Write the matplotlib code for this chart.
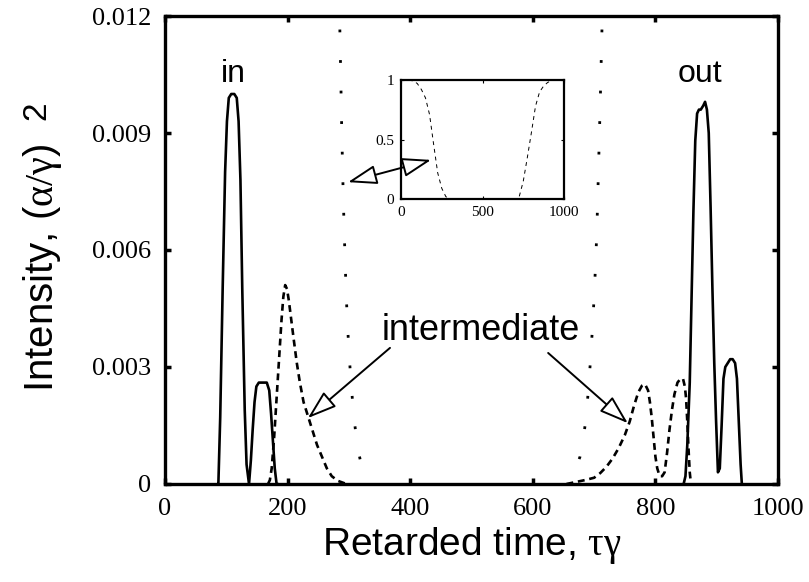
import matplotlib
matplotlib.use("Agg")
import matplotlib.pyplot as plt
from matplotlib.patches import FancyArrowPatch

plt.rcParams["mathtext.fontset"] = "custom"
plt.rcParams["mathtext.rm"] = "Liberation Serif"
plt.rcParams["mathtext.it"] = "Liberation Serif"
plt.rcParams["mathtext.default"] = "rm"

# ---- data ----
in_x = [85, 87, 90, 94, 98, 101, 104, 108, 113, 117, 120, 123, 126, 130, 133,
        137, 140, 143, 146, 149, 153, 160, 166, 170, 173, 176, 179, 182, 185]
in_y = [0, 0, 0.0017, 0.0050, 0.0080, 0.0093, 0.0099, 0.0100, 0.0100, 0.0099,
        0.0093, 0.0078, 0.0050, 0.0019, 0.0005, 0.0000, 0.0006, 0.0014, 0.0021,
        0.0025, 0.0026, 0.0026, 0.0026, 0.0024, 0.0018, 0.0011, 0.0004, 0.0,
        0.0]

out_x = [846, 849, 852, 856, 859, 862, 865, 868, 871, 874, 878, 881, 884, 887,
         890, 893, 896, 899, 902, 905, 908, 911, 914, 918, 922, 926, 930, 933,
         936, 939, 941]
out_y = [0, 0.0002, 0.0010, 0.0026, 0.0048, 0.0070, 0.0088, 0.0095, 0.0096,
         0.0096, 0.0097, 0.0098, 0.0096, 0.0090, 0.0071, 0.0050, 0.0031, 0.0016,
         0.0003, 0.0004, 0.0015, 0.0027, 0.0030, 0.0031, 0.0032, 0.0032, 0.0031,
         0.0027, 0.0016, 0.0005, 0.0]

mid_in_x = [168, 171, 174, 178, 182, 186, 190, 193, 196, 199, 202, 206, 210,
            215, 220, 226, 234, 240, 248, 256, 264, 272, 282, 296]
mid_in_y = [0, 0.0001, 0.0004, 0.0012, 0.0022, 0.0032, 0.0042, 0.0048, 0.0051,
            0.0050, 0.0047, 0.0042, 0.0037, 0.0031, 0.0026, 0.0021, 0.0017,
            0.0014, 0.0010, 0.0007, 0.0004, 0.0002, 0.00008, 0]

mid_out_x = [655, 670, 685, 700, 710, 720, 730, 740, 750, 758, 765, 772, 778,
             783, 788, 791, 794, 797, 800, 803, 807, 811, 815, 819, 823, 827,
             831, 836, 841, 845, 848, 850, 852, 854, 856, 858]
mid_out_y = [0, 0.00005, 0.0001, 0.00016, 0.00028, 0.00044, 0.00065, 0.00092,
             0.00125, 0.0016, 0.0020, 0.00235, 0.00252, 0.00256, 0.0024, 0.0021,
             0.0017, 0.0012, 0.0007, 0.0004, 0.0002, 0.0002, 0.0003, 0.0008,
             0.0014, 0.0019, 0.0023, 0.0026, 0.0027, 0.0027, 0.0025, 0.0022,
             0.0016, 0.0009, 0.0003, 0]

dot_l_x = [282, 285, 286.5, 288, 289.5, 291, 292.5, 294, 296, 298, 300, 303,
           306, 309, 312, 316, 320, 325, 331]
dot_l_y = [0.0135, 0.0118, 0.0106, 0.0093, 0.0082, 0.0072, 0.0064, 0.0056,
           0.0047, 0.0040, 0.0034, 0.0027, 0.0021, 0.0016, 0.0012, 0.0008,
           0.0005, 0.0003, 0.0001]

dot_r_x = [716, 713, 711.5, 710, 708.5, 707, 705.5, 704, 702, 700, 698, 695,
           692, 689, 686, 682, 677, 670, 660]
dot_r_y = [0.0135, 0.0118, 0.0108, 0.0098, 0.0089, 0.0080, 0.0071, 0.0063,
           0.0055, 0.0048, 0.0042, 0.0034, 0.0027, 0.0021, 0.0016, 0.0011,
           0.0007, 0.0004, 0.0001]

inset_x = [0, 50, 80, 100, 125, 150, 175, 200, 225, 250, 275, 300, 700, 725,
           750, 775, 800, 825, 850, 875, 900, 925, 950, 1000]
inset_y = [1, 1, 0.99, 0.97, 0.92, 0.85, 0.71, 0.46, 0.22, 0.09, 0.02, 0, 0,
           0.02, 0.15, 0.35, 0.56, 0.78, 0.90, 0.95, 0.98, 0.995, 1, 1]

x_ticks = [0, 200, 400, 600, 800, 1000]
x_ticklabels = ["0", "200", "400", "600", "800", "1000"]
y_ticks = [0, 0.003, 0.006, 0.009, 0.012]
y_ticklabels = ["0", "0.003", "0.006", "0.009", "0.012"]
inset_xticks = [0, 500, 1000]
inset_xticklabels = ["0", "500", "1000"]
inset_yticks = [0, 0.5, 1]
inset_yticklabels = ["0", "0.5", "1"]

SANS = "Liberation Sans"
SERIF = "Liberation Serif"

fig = plt.figure(figsize=(8.09, 5.82), dpi=100)
ax = fig.add_axes([0.204, 0.1684, 0.7577, 0.8041])

lw = 1.9
ax.plot(in_x, in_y, color="black", lw=lw, solid_capstyle="butt")
ax.plot(out_x, out_y, color="black", lw=lw, solid_capstyle="butt")
ax.plot(mid_in_x, mid_in_y, color="black", lw=lw, linestyle=(0, (2.6, 1.8)))
ax.plot(mid_out_x, mid_out_y, color="black", lw=lw, linestyle=(0, (2.6, 1.8)))
ax.plot(dot_l_x, dot_l_y, color="black", lw=2.0, linestyle=(0, (1, 10)))
ax.plot(dot_r_x, dot_r_y, color="black", lw=2.0, linestyle=(0, (1, 10)))

ax.set_xlim(0, 1000)
ax.set_ylim(0, 0.012)
ax.set_xticks(x_ticks)
ax.set_xticklabels(x_ticklabels, fontfamily=SERIF, fontsize=19)
ax.set_yticks(y_ticks)
ax.set_yticklabels(y_ticklabels, fontfamily=SERIF, fontsize=19)
ax.tick_params(direction="in", length=4, width=2.5, top=True, right=True,
               pad=10)
for s in ax.spines.values():
    s.set_linewidth(2.4)

ax.set_xlabel(r"Retarded time, $\tau\gamma$", fontfamily=SANS, fontsize=28,
              labelpad=4)
fig.text(0.053, 0.54, r"Intensity, ($\alpha/\gamma$)", rotation=90,
         fontfamily=SANS, fontsize=29, ha="center", va="center")
fig.text(0.045, 0.81, "2", rotation=90, fontfamily=SANS, fontsize=24,
         ha="center", va="center")

ax.text(111, 0.0103, "in", fontfamily=SANS, fontsize=23, ha="center",
        va="baseline")
ax.text(873, 0.0103, "out", fontfamily=SANS, fontsize=23, ha="center",
        va="baseline")
ax.text(515, 0.00369, "intermediate", fontfamily=SANS, fontsize=26,
        ha="center", va="baseline")

arrow_style = "-|>,head_length=0.9,head_width=0.3"
for start, tip in [((367, 0.00349), (233, 0.00169)),
                   ((625, 0.00336), (755, 0.00156))]:
    ax.add_patch(FancyArrowPatch(start, tip, arrowstyle=arrow_style,
                                 mutation_scale=20, lw=1.4, fc="white",
                                 ec="black", shrinkA=0, shrinkB=0))

# inset
axi = fig.add_axes([0.4957, 0.658, 0.2015, 0.2045])
axi.plot(inset_x, inset_y, color="black", lw=0.7, linestyle=(0, (4, 4)))
axi.set_xlim(0, 1000)
axi.set_ylim(0, 1)
axi.set_xticks(inset_xticks)
axi.set_xticklabels(inset_xticklabels, fontfamily=SERIF, fontsize=11)
axi.set_yticks(inset_yticks)
axi.set_yticklabels(inset_yticklabels, fontfamily=SERIF, fontsize=11)
axi.tick_params(direction="in", length=2, width=0.8, top=True, right=True,
                pad=5)
for s in axi.spines.values():
    s.set_linewidth(1.6)

fig.add_artist(FancyArrowPatch((298.5, 0.00774), (434, 0.00831),
                               transform=ax.transData,
                               arrowstyle="<|-|>,head_length=0.9,head_width=0.3",
                               mutation_scale=20, lw=1.4, fc="white",
                               ec="black", shrinkA=0, shrinkB=0, zorder=5))

fig.savefig("out.png", dpi=100)
